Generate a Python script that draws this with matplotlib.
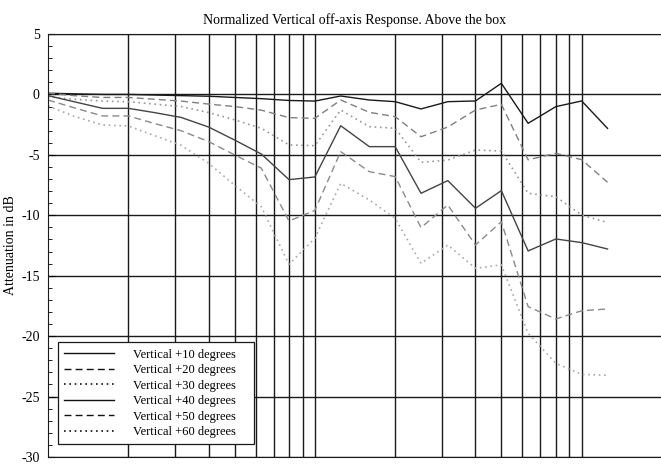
import matplotlib
matplotlib.use('Agg')
import matplotlib.pyplot as plt
from matplotlib.ticker import MultipleLocator, NullFormatter

plt.rcParams['font.family'] = ['Liberation Serif', 'DejaVu Serif']
plt.rcParams['axes.unicode_minus'] = False

# third-octave frequencies (Hz)
freqs = [100, 125, 160, 200, 250, 315, 400, 500, 630, 800, 1000,
         1250, 1600, 2000, 2500, 3150, 4000, 5000, 6300, 8000, 10000, 12500]

v10 = [0.1, 0.05, 0.0, 0.0, -0.05, -0.1, -0.15, -0.25, -0.35, -0.5, -0.55,
       -0.13, -0.46, -0.6, -1.2, -0.6, -0.54, 0.92, -2.39, -1.01, -0.54, -2.81]
v20 = [0.1, -0.1, -0.25, -0.25, -0.4, -0.55, -0.8, -1.0, -1.3, -1.92, -1.98,
       -0.46, -1.48, -1.84, -3.5, -2.7, -1.29, -0.82, -5.41, -4.87, -5.4, -7.27]
v30 = [-0.2, -0.4, -0.55, -0.6, -0.8, -1.0, -1.5, -2.1, -2.8, -4.18, -4.24,
       -1.29, -2.67, -2.8, -5.62, -5.43, -4.6, -4.68, -8.18, -8.46, -9.98, -10.6]
v40 = [-0.1, -0.6, -1.15, -1.15, -1.5, -1.9, -2.7, -3.77, -4.93, -7.05, -6.83,
       -2.59, -4.32, -4.32, -8.18, -7.13, -9.42, -7.96, -12.95, -11.96, -12.26, -12.79]
v50 = [-0.46, -1.1, -1.78, -1.78, -2.4, -3.0, -3.9, -5.0, -6.1, -10.47, -9.6,
       -4.73, -6.39, -6.8, -11.02, -9.15, -12.46, -10.53, -17.56, -18.58, -17.9, -17.75]
v60 = [-0.96, -1.8, -2.53, -2.61, -3.4, -4.2, -5.7, -7.5, -9.3, -14.06, -11.9,
       -7.36, -8.73, -10.25, -13.98, -12.46, -14.39, -14.1, -19.77, -22.25, -23.16, -23.24]

labels = ['Vertical +10 degrees', 'Vertical +20 degrees', 'Vertical +30 degrees',
          'Vertical +40 degrees', 'Vertical +50 degrees', 'Vertical +60 degrees']

grid_freqs = [200, 300, 400, 500, 600, 700, 800, 900, 1000,
              2000, 3000, 4000, 5000, 6000, 7000, 8000, 9000, 10000]

fig = plt.figure(figsize=(6.61, 4.67), dpi=100)
ax = fig.add_axes([48/661, 10/467, 614/661, 423/467])

styles = [
    dict(color='#1a1a1a', ls='-', lw=1.0),
    dict(color='#808080', ls=(0, (5, 3)), lw=1.0),
    dict(color='#999999', ls=(0, (1, 2.2)), lw=1.2),
    dict(color='#444444', ls='-', lw=1.0),
    dict(color='#8a8a8a', ls=(0, (5, 3)), lw=1.0),
    dict(color='#aaaaaa', ls=(0, (1, 2.2)), lw=1.2),
]
series = [v10, v20, v30, v40, v50, v60]
for vals, st, lab in zip(series, styles, labels):
    ax.plot(freqs, vals, label=lab + '    ', **st)

ax.set_xscale('log')
ax.set_xlim(100, 20000)
ax.set_ylim(-30, 5)
ax.set_xticks(grid_freqs)
ax.xaxis.set_minor_locator(plt.NullLocator())
ax.xaxis.set_major_formatter(NullFormatter())
ax.tick_params(axis='x', length=0)
ax.yaxis.set_major_locator(MultipleLocator(5))
ax.yaxis.set_minor_locator(MultipleLocator(1))
ax.tick_params(axis='y', which='major', direction='in', length=5, labelsize=10, pad=6)
ax.tick_params(axis='y', which='minor', direction='in', length=3)
ax.grid(True, which='major', color='#1a1a1a', lw=1.0)
ax.spines['right'].set_visible(False)
for s in ['left', 'top', 'bottom']:
    ax.spines[s].set_color('#1a1a1a')

ax.set_title('Normalized Vertical off-axis Response. Above the box', fontsize=10, pad=7)
ax.set_ylabel('Attenuation in dB', fontsize=10, labelpad=3)

leg = ax.legend(loc='lower left', bbox_to_anchor=(0.016, 0.03), fontsize=9,
                frameon=True, fancybox=False, edgecolor='#1a1a1a', framealpha=1,
                handlelength=4.0, handletextpad=1.5, labelspacing=0.28,
                borderpad=0.5, borderaxespad=0)
leg.get_frame().set_linewidth(0.9)
for h in leg.get_lines():
    h.set_color('#111111')

fig.savefig('out.png', dpi=100)
